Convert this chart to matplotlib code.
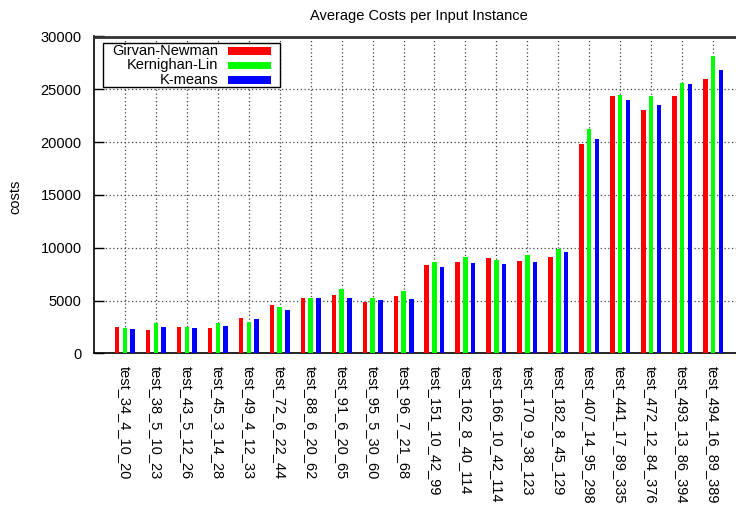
import matplotlib
matplotlib.use("Agg")
import matplotlib.pyplot as plt
import numpy as np
from matplotlib.patches import Rectangle

plt.rcParams['font.family'] = ['Liberation Sans', 'DejaVu Sans']

categories = ["test_34_4_10_20", "test_38_5_10_23", "test_43_5_12_26", "test_45_3_14_28",
              "test_49_4_12_33", "test_72_6_22_44", "test_88_6_20_62", "test_91_6_20_65",
              "test_95_5_30_60", "test_96_7_21_68", "test_151_10_42_99", "test_162_8_40_114",
              "test_166_10_42_114", "test_170_9_38_123", "test_182_8_45_129", "test_407_14_95_298",
              "test_441_17_89_335", "test_472_12_84_376", "test_493_13_86_394", "test_494_16_89_389"]
girvan_newman = [2520, 2210, 2500, 2400, 3380, 4590, 5250, 5540, 4870, 5440,
                 8390, 8670, 9050, 8770, 9150, 19780, 24340, 23010, 24340, 25970]
kernighan_lin = [2430, 2880, 2500, 2880, 2970, 4400, 5250, 6110, 5250, 5920,
                 8670, 9150, 8860, 9340, 9910, 21200, 24440, 24340, 25580, 28150]
k_means = [2310, 2500, 2400, 2600, 3260, 4110, 5250, 5250, 5060, 5150,
           8200, 8580, 8480, 8670, 9620, 20340, 23960, 23490, 25490, 26810]
series_names = ["Girvan-Newman", "Kernighan-Lin", "K-means"]
colors = ["#ff0000", "#00ff00", "#0000ff"]
yticks = [0, 5000, 10000, 15000, 20000, 25000, 30000]

W, H = 736, 509
fig = plt.figure(figsize=(W / 100, H / 100), dpi=100)
left, right, top, bottom = 94, 744, 36.5, 353.3
ax = fig.add_axes([left / W, 1 - bottom / H, (right - left) / W, (bottom - top) / H])

x = np.arange(len(categories))
offsets = [-0.25, 0.0, 0.25]
for vals, off, c in zip([girvan_newman, kernighan_lin, k_means], offsets, colors):
    ax.bar(x + off, vals, width=0.145, color=c, zorder=3, linewidth=0)

ax.set_xlim(-1, 20)
ax.set_ylim(0, 30000)
ax.set_yticks(yticks)
ax.set_yticklabels([str(v) for v in yticks], fontsize=10.5)
ax.set_xticks(x)
ax.set_xticklabels(categories, rotation=270, fontsize=10.5, va='top', ha='center')
ax.tick_params(axis='y', direction='in', length=7, width=1, pad=9, right=False)
ax.tick_params(axis='x', length=0, pad=9)
ax.grid(True, color='#444444', linestyle=(0, (1, 2)), linewidth=0.9, zorder=1)
for s in ['left', 'bottom']:
    ax.spines[s].set_linewidth(1.2)
ax.spines['top'].set_linewidth(2.0)
ax.spines['top'].set_color('#333333')
ax.spines['right'].set_visible(False)

ax.set_title("Average Costs per Input Instance", fontsize=10.5, pad=12)
fig.text(15 / W, 1 - 197 / H, "costs", rotation=90, fontsize=10.5, ha='center', va='center')

# legend (gnuplot-style: text right-aligned, sample on the right)
def px(xp, yp):
    return (xp / W, 1 - yp / H)

fig.patches.append(Rectangle(px(103, 87), (280 - 103) / W, (87 - 43) / H,
                             transform=fig.transFigure, fill=True, facecolor='white',
                             edgecolor='black', linewidth=1.0, zorder=10))
ys = [51, 65.5, 80]
for name, c, yy in zip(series_names, colors, ys):
    fig.text(218 / W, 1 - yy / H, name, ha='right', va='center', fontsize=10.5, zorder=11)
    fig.patches.append(Rectangle(px(228, yy + 3.7), 43 / W, 7.4 / H,
                                 transform=fig.transFigure, facecolor=c, edgecolor='none', zorder=11))

fig.savefig("out.png", dpi=100)
